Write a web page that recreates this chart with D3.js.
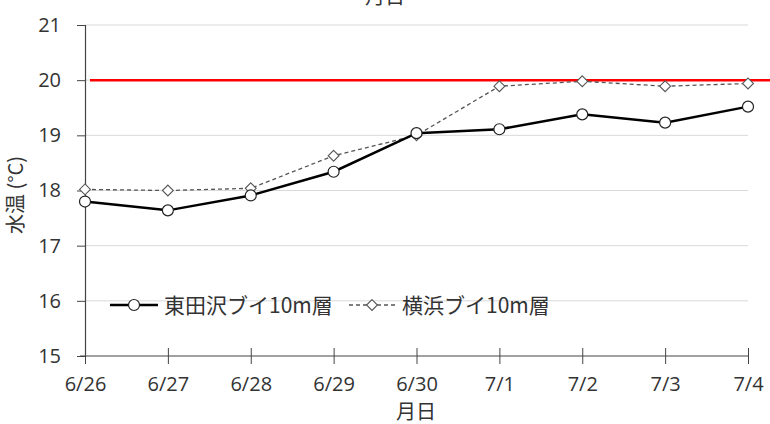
<!DOCTYPE html>
<meta charset="utf-8">
<style>
body { margin: 0; background: #fff; }
svg text { font-family: "Open Sans", "Noto Sans CJK JP", sans-serif; fill: #333; }
.jp { font-family: "Noto Sans CJK JP", sans-serif; }
.grid line { stroke: #d9d9d9; stroke-width: 1; }
</style>
<body>
<svg width="770" height="424"></svg>
<script src="https://cdn.jsdelivr.net/npm/d3@7"></script>
<script>
// dates on the x axis
var days = ["6/26", "6/27", "6/28", "6/29", "6/30", "7/1", "7/2", "7/3", "7/4"];
// water temperature at 10 m depth
var higashitazawa = [17.80, 17.64, 17.91, 18.34, 19.04, 19.11, 19.38, 19.23, 19.52];
var yokohama = [18.02, 18.00, 18.04, 18.63, 19.00, 19.89, 19.98, 19.89, 19.94];
var threshold = 20;
var yTicks = [15, 16, 17, 18, 19, 20, 21];

var svg = d3.select("svg");

var x = d3.scalePoint().domain(days).range([85, 748]);
var y = d3.scaleLinear().domain([15, 21]).range([356, 25]);

// horizontal gridlines
svg.append("g").attr("class", "grid")
  .selectAll("line").data(yTicks.slice(1))
  .enter().append("line")
    .attr("x1", 85).attr("x2", 748)
    .attr("y1", function(d) { return y(d); })
    .attr("y2", function(d) { return y(d); });

// y axis
var yAxis = svg.append("g")
    .attr("transform", "translate(85,0)")
    .call(d3.axisLeft(y).tickValues(yTicks).tickFormat(d3.format("d")).tickSize(8).tickPadding(16));
yAxis.select(".domain").attr("stroke", "#444").attr("stroke-width", 1.2);
yAxis.selectAll(".tick line").attr("stroke", "#444").attr("x2", 0).attr("x1", -8);
yAxis.selectAll("text").style("font-size", "20px").style("fill", "#333");

// x axis
var xAxis = svg.append("g")
    .attr("transform", "translate(0,356)")
    .call(d3.axisBottom(x).tickSizeInner(8).tickSizeOuter(0).tickPadding(13));
xAxis.select(".domain").attr("stroke", "#444").attr("stroke-width", 1.2)
    .attr("d", "M80,0H748");
xAxis.selectAll(".tick line").attr("stroke", "#444").attr("y1", -8).attr("y2", 8);
xAxis.selectAll("text").style("font-size", "20px").style("fill", "#333");

// 20 °C reference line
svg.append("line")
    .attr("x1", 90).attr("x2", 770)
    .attr("y1", y(threshold)).attr("y2", y(threshold))
    .attr("stroke", "#ff0000").attr("stroke-width", 2.5);

var line = d3.line()
    .x(function(d, i) { return x(days[i]); })
    .y(function(d) { return y(d); });

// yokohama (dashed, diamonds)
svg.append("path").datum(yokohama)
    .attr("d", line).attr("fill", "none")
    .attr("stroke", "#555").attr("stroke-width", 1.3).attr("stroke-dasharray", "4,3");

var diamond = d3.symbol().type(d3.symbolDiamond2).size(75);
svg.append("g").selectAll("path").data(yokohama)
  .enter().append("path")
    .attr("d", diamond)
    .attr("transform", function(d, i) { return "translate(" + x(days[i]) + "," + y(d) + ")"; })
    .attr("fill", "#fff").attr("stroke", "#555").attr("stroke-width", 1.1);

// higashitazawa (solid, circles)
svg.append("path").datum(higashitazawa)
    .attr("d", line).attr("fill", "none")
    .attr("stroke", "#000").attr("stroke-width", 2.5);

svg.append("g").selectAll("circle").data(higashitazawa)
  .enter().append("circle")
    .attr("cx", function(d, i) { return x(days[i]); })
    .attr("cy", function(d) { return y(d); })
    .attr("r", 5.5)
    .attr("fill", "#fff").attr("stroke", "#222").attr("stroke-width", 1.2);

// legend
var lg = svg.append("g");
lg.append("line").attr("x1", 110).attr("x2", 158).attr("y1", 305).attr("y2", 305)
    .attr("stroke", "#000").attr("stroke-width", 2.5);
lg.append("circle").attr("cx", 134).attr("cy", 305).attr("r", 5.5)
    .attr("fill", "#fff").attr("stroke", "#222").attr("stroke-width", 1.2);
lg.append("text").attr("class", "jp").attr("x", 164).attr("y", 313)
    .style("font-size", "21px").text("東田沢ブイ10m層");

lg.append("line").attr("x1", 349).attr("x2", 396).attr("y1", 305).attr("y2", 305)
    .attr("stroke", "#555").attr("stroke-width", 1.3).attr("stroke-dasharray", "4,3");
lg.append("path").attr("d", diamond)
    .attr("transform", "translate(372,305)")
    .attr("fill", "#fff").attr("stroke", "#555").attr("stroke-width", 1.1);
lg.append("text").attr("class", "jp").attr("x", 402).attr("y", 313)
    .style("font-size", "21px").text("横浜ブイ10m層");

// titles
svg.append("text").attr("class", "jp").attr("x", 385).attr("y", 4)
    .attr("text-anchor", "middle").style("font-size", "20px").text("月日");
svg.append("text").attr("class", "jp").attr("x", 416).attr("y", 419)
    .attr("text-anchor", "middle").style("font-size", "20px").text("月日");
svg.append("text").attr("class", "jp")
    .attr("transform", "translate(23,195) rotate(-90)")
    .attr("text-anchor", "middle").style("font-size", "20px").text("水温 (°C)");
</script>
</body>
